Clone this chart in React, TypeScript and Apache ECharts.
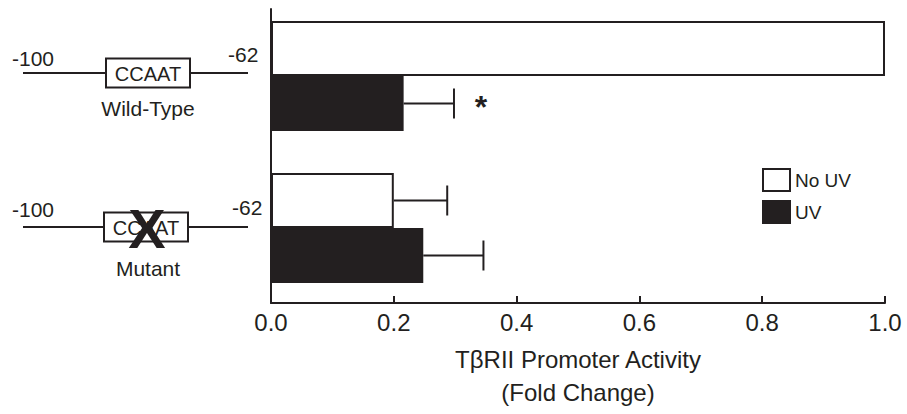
import React, { useEffect, useRef } from "react";
import * as echarts from "echarts";

// ---- data ----
const constructs = ["Wild-Type", "Mutant"];
const seriesNames = ["No UV", "UV"];
const noUvMean = [1.0, 0.2];
const noUvUpper = [null, 0.287];
const uvMean = [0.216, 0.248];
const uvUpper = [0.298, 0.346];
const uvSignificance = ["*", ""];
const xTicks = { min: 0, max: 1, interval: 0.2 };
const axisTitle = "T\u03b2RII Promoter Activity\n(Fold Change)";

const DARK = "#231f20";
const FONT = "'Liberation Sans', Arial, sans-serif";
const BAR_W = 55;

function errorSeries(name: string, means: (number | null)[], uppers: (number | null)[], sign: number, marks?: string[]) {
  const data = means.map((m, i) => [m, uppers[i] == null ? m : uppers[i], i, marks ? marks[i] : ""]);
  return {
    type: "custom",
    name,
    xAxisIndex: 1,
    yAxisIndex: 1,
    encode: { x: [0, 1], y: 2 },
    silent: true,
    z: 5,
    data,
    renderItem: (params: any, api: any) => {
      const mean = api.value(0);
      const upper = api.value(1);
      const cat = api.value(2);
      const mark = data[params.dataIndex][3] as string;
      if (upper === mean) return { type: "group", children: [] };
      const p0 = api.coord([mean, cat]);
      const p1 = api.coord([upper, cat]);
      const y = p0[1] + (sign * BAR_W) / 2;
      const children: any[] = [
        { type: "line", shape: { x1: p0[0], y1: y, x2: p1[0], y2: y }, style: { stroke: DARK, lineWidth: 2 } },
        { type: "line", shape: { x1: p1[0], y1: y - 15, x2: p1[0], y2: y + 15 }, style: { stroke: DARK, lineWidth: 2 } },
      ];
      if (mark) {
        children.push({
          type: "text",
          style: {
            text: mark,
            x: p1[0] + 27,
            y: y + 3,
            align: "center",
            verticalAlign: "middle",
            font: `bold 32px ${FONT}`,
            fill: DARK,
          },
        });
      }
      return { type: "group", children };
    },
  };
}

function diagram(yLine: number, boxX: number, label: string, mutant: boolean, dy: number[]) {
  const els: any[] = [
    { type: "line", shape: { x1: 23, y1: yLine, x2: 248, y2: yLine }, style: { stroke: DARK, lineWidth: 2 } },
    { type: "rect", shape: { x: boxX, y: yLine - 14.5, width: 84, height: 29 }, style: { fill: "#fff", stroke: DARK, lineWidth: 2 } },
    { type: "text", style: { text: "CCAAT", x: boxX + 42, y: yLine + 1, align: "center", verticalAlign: "middle", font: `20px ${FONT}`, fill: DARK } },
    { type: "text", style: { text: "-100", x: 12, y: yLine + dy[0], align: "left", verticalAlign: "middle", font: `21px ${FONT}`, fill: DARK } },
    { type: "text", style: { text: "-62", x: dy[2], y: yLine + dy[1], align: "left", verticalAlign: "middle", font: `21px ${FONT}`, fill: DARK } },
    { type: "text", style: { text: label, x: 148, y: yLine + dy[3], align: "center", verticalAlign: "middle", font: `21px ${FONT}`, fill: DARK } },
  ];
  if (mutant) {
    els.push({ type: "text", style: { text: "X", x: boxX + 43, y: yLine + 1, align: "center", verticalAlign: "middle", font: `bold 56px ${FONT}`, fill: DARK } });
  }
  return els;
}

export default function App() {
  const ref = useRef<HTMLDivElement>(null);
  useEffect(() => {
    if (!ref.current) return;
    const chart = echarts.init(ref.current, undefined, { renderer: "svg" });
    chart.setOption({
      animation: false,
      backgroundColor: "#fff",
      textStyle: { fontFamily: FONT, color: DARK },
      grid: [
        { left: 271, right: 22, top: 9, bottom: 101 },
        { left: 271, right: 22, top: 0, bottom: 110 },
      ],
      xAxis: [
        {
          type: "value",
          gridIndex: 0,
          min: xTicks.min,
          max: xTicks.max,
          interval: xTicks.interval,
          axisLine: { show: true, lineStyle: { color: DARK, width: 2 } },
          axisTick: { show: true, inside: true, length: 7, lineStyle: { color: DARK, width: 2 } },
          splitLine: { show: false },
          axisLabel: { fontSize: 24, color: DARK, margin: 7, fontFamily: FONT, formatter: (v: number) => v.toFixed(1) },
          name: axisTitle,
          nameLocation: "middle",
          nameGap: 40,
          nameTextStyle: { fontSize: 24, color: DARK, lineHeight: 33, fontFamily: FONT },
        },
        { type: "value", gridIndex: 1, min: xTicks.min, max: xTicks.max, show: false },
      ],
      yAxis: [
        {
          type: "value",
          gridIndex: 0,
          axisLine: { show: true, lineStyle: { color: DARK, width: 2 } },
          axisTick: { show: false },
          axisLabel: { show: false },
          splitLine: { show: false },
        },
        { type: "category", gridIndex: 1, data: constructs, inverse: true, show: false },
      ],
      legend: {
        orient: "vertical",
        left: 757,
        top: 163,
        itemWidth: 27,
        itemHeight: 22,
        itemGap: 8,
        icon: "rect",
        data: seriesNames,
        textStyle: { fontSize: 19, color: DARK, fontFamily: FONT },
      },
      series: [
        {
          type: "bar",
          name: seriesNames[0],
          xAxisIndex: 1,
          yAxisIndex: 1,
          data: noUvMean,
          barWidth: BAR_W,
          barGap: "0%",
          itemStyle: { color: "#ffffff", borderColor: DARK, borderWidth: 2 },
        },
        {
          type: "bar",
          name: seriesNames[1],
          xAxisIndex: 1,
          yAxisIndex: 1,
          data: uvMean,
          barWidth: BAR_W,
          barGap: "0%",
          itemStyle: { color: DARK, borderColor: DARK, borderWidth: 2 },
        },
        errorSeries("err-noUV", noUvMean, noUvUpper, -1),
        errorSeries("err-UV", uvMean, uvUpper, 1, uvSignificance),
      ],
      graphic: [
        ...diagram(73, 106, "Wild-Type", false, [-15, -19, 228, 35]),
        ...diagram(227, 104, "Mutant", true, [-18, -20, 232, 41]),
      ],
    });
    return () => chart.dispose();
  }, []);
  return <div ref={ref} style={{ position: "absolute", left: 0, top: 0, width: 907, height: 414 }} />;
}
